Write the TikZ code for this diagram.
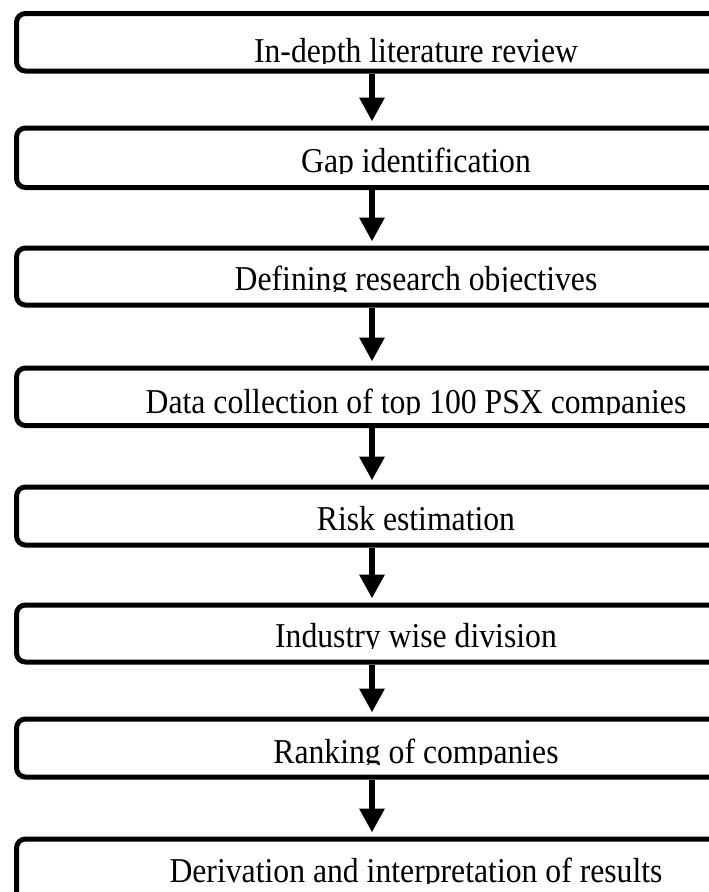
\documentclass[tikz,border=0pt]{standalone}
\usepackage{fontspec}
\usepackage{graphicx}
\setmainfont{Liberation Serif}
\usetikzlibrary{arrows.meta}

\tikzset{
  stepbox/.style={draw=black, line width=5pt, rounded corners=9pt,
    minimum width=711pt, inner sep=0pt, fill=none},
  steptext/.style={anchor=base, inner sep=0pt,
    font=\fontsize{31.7}{38}\selectfont},
  flowarrow/.style={line width=6.5pt, draw=black,
    -{Triangle[width=24pt, length=24pt]}},
}

% one process step: #1 name, #2 top, #3 bottom, #4 text baseline, #5 label
\newcommand{\flowstep}[5]{%
  \pgfmathsetmacro{\stepmid}{(#2+#3)/2}%
  \pgfmathsetmacro{\stepht}{#3-#2}%
  \node[stepbox, minimum height=\stepht pt] (b#1) at (372,\stepmid) {};
  \begin{scope}
    \clip (20,#2) rectangle (705,#4+1);
    \node[steptext] (t#1) at (416,#4) {\scalebox{1}[1.1]{#5}};
  \end{scope}
}

\begin{document}
\begin{tikzpicture}[x=1pt, y=-1pt]
  \useasboundingbox (0,0) rectangle (709,892);
  \clip (0,0) rectangle (709,892);
  \fill[white] (0,0) rectangle (709,892);

  \flowstep{1}{13.5}{71}{62}{In-depth literature review}
  \flowstep{2}{128}{187.5}{172}{Gap identification}
  \flowstep{3}{248}{305}{290}{Defining research objectives}
  \flowstep{4}{368}{425.5}{413}{Data collection of top 100 PSX companies}
  \flowstep{5}{487}{545}{530}{Risk estimation}
  \flowstep{6}{605}{662}{647}{Industry wise division}
  \flowstep{7}{719}{777}{763}{Ranking of companies}
  \flowstep{8}{839}{910}{882}{Derivation and interpretation of results}

  \foreach \a/\b in {1/2, 2/3, 3/4, 4/5, 5/6, 6/7, 7/8}
    \draw[flowarrow] (b\a.south) -- ([yshift=4pt]b\b.north);
\end{tikzpicture}
\end{document}
